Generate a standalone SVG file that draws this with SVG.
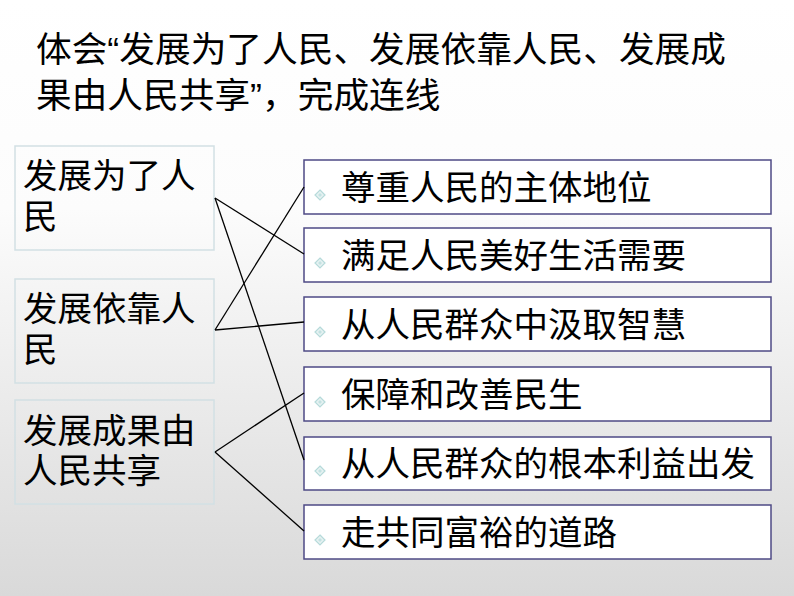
<svg xmlns="http://www.w3.org/2000/svg" width="794" height="596" viewBox="0 0 794 596">
<defs>
<linearGradient id="bg" x1="0" y1="0" x2="0" y2="1">
<stop offset="0" stop-color="#ffffff"/>
<stop offset="0.35" stop-color="#fcfcfc"/>
<stop offset="1" stop-color="#d9d9d9"/>
</linearGradient>
<symbol id="dia" viewBox="-6 -6 12 12"><path d="M0 -5 L5 0 L0 5 L-5 0 Z" fill="#e6f2f2" stroke="#b6dada" stroke-width="1.2"/><path d="M0 -2 L2 0 L0 2 L-2 0 Z" fill="#c4e2e2"/></symbol>
</defs>
<style>
text{font-family:"Liberation Sans","Noto Sans CJK SC",sans-serif;fill:#000}
.t{font-size:35.7px}
.l{font-size:34.5px}
.r{font-size:34.5px}
.lb{fill:none;stroke:#d2e0e4;stroke-width:1.5}
.rb{fill:#ffffff;stroke:#4e4a85;stroke-width:1.5}
.c{stroke:#000;stroke-width:1.3;fill:none}
</style>
<rect width="794" height="596" fill="url(#bg)"/>
<g id="title">
<text class="t" x="36" y="62">体会“发展为了人民、发展依靠人民、发展成</text>
<text class="t" x="36" y="108">果由人民共享”，完成连线</text>
</g>
<g id="L1"><rect class="lb" x="15" y="146" width="199" height="104"/><text class="l" x="23" y="188">发展为了人</text><text class="l" x="23" y="229">民</text></g>
<g id="L2"><rect class="lb" x="15" y="279" width="199" height="104"/><text class="l" x="23" y="321">发展依靠人</text><text class="l" x="23" y="362">民</text></g>
<g id="L3"><rect class="lb" x="15" y="400" width="199" height="104"/><text class="l" x="23" y="443">发展成果由</text><text class="l" x="23" y="483">人民共享</text></g>
<g id="R1"><rect class="rb" x="304" y="160" width="467" height="54"/><use href="#dia" x="314" y="189" width="12" height="12"/><text class="r" x="341" y="200">尊重人民的主体地位</text></g>
<g id="R2"><rect class="rb" x="304" y="228" width="467" height="54"/><use href="#dia" x="314" y="257" width="12" height="12"/><text class="r" x="341" y="268">满足人民美好生活需要</text></g>
<g id="R3"><rect class="rb" x="304" y="297" width="467" height="54"/><use href="#dia" x="314" y="326" width="12" height="12"/><text class="r" x="341" y="337">从人民群众中汲取智慧</text></g>
<g id="R4"><rect class="rb" x="304" y="367" width="467" height="54"/><use href="#dia" x="314" y="396" width="12" height="12"/><text class="r" x="341" y="407">保障和改善民生</text></g>
<g id="R5"><rect class="rb" x="304" y="437" width="467" height="53"/><use href="#dia" x="314" y="465" width="12" height="12"/><text class="r" x="341" y="476">从人民群众的根本利益出发</text></g>
<g id="R6"><rect class="rb" x="304" y="505" width="467" height="54"/><use href="#dia" x="314" y="534" width="12" height="12"/><text class="r" x="341" y="545">走共同富裕的道路</text></g>
<g id="connectors">
<line class="c" x1="215" y1="198" x2="304" y2="254"/>
<line class="c" x1="215" y1="198" x2="304" y2="460"/>
<line class="c" x1="215" y1="330" x2="304" y2="187"/>
<line class="c" x1="215" y1="330" x2="304" y2="322"/>
<line class="c" x1="215" y1="452" x2="304" y2="393"/>
<line class="c" x1="215" y1="452" x2="304" y2="531"/>
</g>
</svg>
